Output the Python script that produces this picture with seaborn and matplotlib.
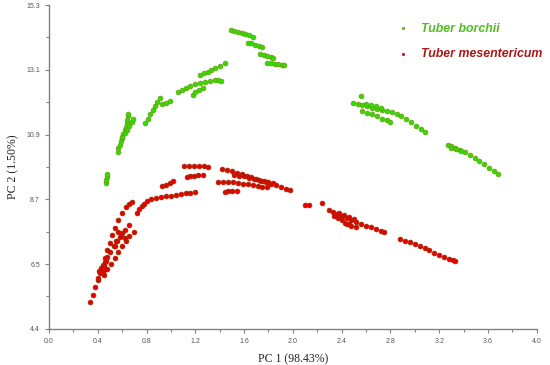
import numpy as np
import pandas as pd
import seaborn as sns
import matplotlib.pyplot as plt

# --- DATA ---
borchii_x = [1.49, 1.52, 1.55, 1.58, 1.61, 1.64, 1.67,
             1.63, 1.66, 1.69, 1.72, 1.75,
             1.73, 1.76, 1.79, 1.82, 1.84,
             1.79, 1.82, 1.85, 1.88, 1.91, 1.93,
             1.24, 1.27, 1.30, 1.33, 1.36, 1.40, 1.44,
             1.06, 1.09, 1.12, 1.16, 1.20, 1.24, 1.28, 1.32, 1.36, 1.39, 1.41,
             1.18, 1.20, 1.23, 1.26,
             0.79, 0.81, 0.83, 0.85, 0.87, 0.89, 0.91, 0.93, 0.96, 0.99,
             0.57, 0.57, 0.58, 0.59, 0.60, 0.61, 0.62, 0.63, 0.64, 0.64, 0.65, 0.65,
             0.60, 0.62, 0.64, 0.66, 0.68, 0.69,
             0.47, 0.47, 0.48, 0.48,
             2.49, 2.53, 2.57, 2.61, 2.65, 2.69, 2.73, 2.77, 2.81, 2.85, 2.89, 2.93, 2.97, 3.01, 3.05, 3.08,
             2.57, 2.61, 2.65, 2.69, 2.73, 2.77, 2.80,
             2.60, 2.64, 2.68, 2.72, 2.56,
             3.27, 3.30, 3.33, 3.37, 3.41, 3.45, 3.49, 3.53, 3.57, 3.61, 3.65, 3.68, 3.30, 3.34, 3.38]
borchii_y = [14.47, 14.44, 14.40, 14.36, 14.32, 14.28, 14.24,
             14.04, 14.01, 13.97, 13.94, 13.90,
             13.67, 13.63, 13.60, 13.56, 13.53,
             13.36, 13.35, 13.33, 13.31, 13.30, 13.29,
             12.96, 13.01, 13.06, 13.12, 13.19, 13.26, 13.34,
             12.39, 12.45, 12.51, 12.57, 12.63, 12.68, 12.72, 12.75, 12.78, 12.79, 12.74,
             12.28, 12.36, 12.44, 12.52,
             11.34, 11.48, 11.62, 11.76, 11.90, 12.04, 12.18, 11.98, 12.02, 12.06,
             10.36, 10.48, 10.60, 10.72, 10.84, 10.96, 11.08, 11.20, 11.32, 11.44, 11.56, 11.63,
             10.85, 10.98, 11.10, 11.24, 11.38, 11.48,
             9.32, 9.42, 9.52, 9.62,
             12.01, 11.97, 11.93, 11.89, 11.85, 11.81, 11.77, 11.73, 11.69, 11.64, 11.55, 11.45, 11.35, 11.24, 11.12, 11.02,
             11.75, 11.68, 11.62, 11.55, 11.48, 11.42, 11.38,
             11.98, 11.95, 11.90, 11.84, 12.25,
             10.60, 10.56, 10.50, 10.43, 10.35, 10.26, 10.16, 10.05, 9.94, 9.83, 9.72, 9.62, 10.50, 10.45, 10.38]

mesentericum_x = [0.34, 0.36, 0.38, 0.40, 0.42, 0.44, 0.46, 0.48, 0.50, 0.52, 0.54, 0.57, 0.60, 0.63, 0.66, 0.68,
                  0.40, 0.42, 0.44, 0.46, 0.48, 0.50, 0.53, 0.56, 0.59, 0.62, 0.66,
                  0.45, 0.48, 0.51, 0.54, 0.57, 0.60, 0.63, 0.66, 0.70,
                  0.41, 0.43, 0.45, 0.47, 0.44, 0.46, 0.55, 0.58, 0.60, 0.57, 0.62, 0.54,
                  0.72, 0.74, 0.76, 0.78, 0.80, 0.84, 0.88, 0.92, 0.96, 1.00, 1.04, 1.08, 1.12, 1.16, 1.20,
                  0.93, 0.96, 0.99, 1.02,
                  1.13, 1.16, 1.19, 1.22, 1.26,
                  1.11, 1.15, 1.19, 1.23, 1.27, 1.30,
                  1.42, 1.46, 1.50, 1.54, 1.58, 1.62, 1.66, 1.70, 1.74, 1.78, 1.82, 1.86, 1.90, 1.94, 1.98,
                  1.39, 1.43, 1.47, 1.51, 1.55, 1.59, 1.63, 1.67, 1.71, 1.75, 1.79,
                  1.44, 1.47, 1.50, 1.54,
                  1.52, 1.56, 1.60, 1.64, 1.68, 1.72, 1.76, 1.80, 1.84,
                  2.10, 2.13, 2.24,
                  2.30, 2.33, 2.36, 2.40, 2.44, 2.48, 2.52, 2.56, 2.60, 2.64, 2.68, 2.72, 2.75,
                  2.34, 2.37, 2.40, 2.43, 2.46, 2.38, 2.42, 2.46, 2.50, 2.44, 2.48, 2.52,
                  2.88, 2.92, 2.96, 3.00, 3.04, 3.08, 3.12, 3.16, 3.20, 3.24, 3.28, 3.31, 3.33]
mesentericum_y = [5.31, 5.55, 5.80, 6.05, 6.30, 6.55, 6.80, 7.05, 7.30, 7.55, 7.80, 8.05, 8.30, 8.50, 8.62, 8.68,
                  6.10, 6.28, 6.46, 6.64, 6.82, 7.00, 7.18, 7.36, 7.54, 7.72, 7.90,
                  6.20, 6.40, 6.60, 6.80, 7.00, 7.18, 7.36, 7.52, 7.65,
                  6.35, 6.45, 6.55, 6.70, 6.30, 6.40, 7.35, 7.50, 7.62, 7.65, 7.45, 7.20,
                  8.31, 8.42, 8.52, 8.62, 8.70, 8.76, 8.80, 8.83, 8.86, 8.89, 8.92, 8.94, 8.96, 8.98, 9.00,
                  9.20, 9.26, 9.32, 9.37,
                  9.52, 9.53, 9.55, 9.57, 9.59,
                  9.89, 9.90, 9.90, 9.89, 9.88, 9.86,
                  9.79, 9.74, 9.70, 9.65, 9.60, 9.55, 9.50, 9.45, 9.39, 9.34, 9.29, 9.24, 9.18, 9.12, 9.07,
                  9.35, 9.36, 9.35, 9.33, 9.31, 9.29, 9.27, 9.24, 9.21, 9.19, 9.16,
                  9.02, 9.03, 9.04, 9.05,
                  9.59, 9.56, 9.53, 9.49, 9.45, 9.41, 9.38, 9.35, 9.32,
                  8.57, 8.57, 8.64,
                  8.41, 8.35, 8.28, 8.20, 8.13, 8.06, 8.00, 7.94, 7.88, 7.82, 7.76, 7.70, 7.67,
                  8.20, 8.12, 8.05, 7.98, 7.92, 8.30, 8.25, 8.18, 8.10, 7.92, 7.88, 7.84,
                  7.43, 7.37, 7.31, 7.25, 7.18, 7.11, 7.04, 6.97, 6.90, 6.83, 6.76, 6.71, 6.69]

species = ['Tuber borchii', 'Tuber mesentericum']
x_ticks = [0.0, 0.4, 0.8, 1.2, 1.6, 2.0, 2.4, 2.8, 3.2, 3.6, 4.0]
y_ticks = [4.4, 6.58, 8.76, 10.94, 13.12, 15.3]
y_tick_labels = ['4.4', '6.5', '8.7', '10.9', '13.1', '15.3']

df = pd.concat([
    pd.DataFrame({'PC1': borchii_x, 'PC2': borchii_y, 'species': species[0]}),
    pd.DataFrame({'PC1': mesentericum_x, 'PC2': mesentericum_y, 'species': species[1]}),
], ignore_index=True)

# --- PLOT ---
sns.set_style('ticks')
plt.rcParams['font.family'] = ['Liberation Sans', 'DejaVu Sans']

fill = {species[0]: '#33dd00', species[1]: '#e80000'}
edge = {species[0]: '#6a9a10', species[1]: '#9a2a00'}
text_col = {species[0]: '#55bb22', species[1]: '#a81818'}

fig = plt.figure(figsize=(5.5, 3.65), dpi=100)
ax = fig.add_axes([0.089, 0.099, 0.887, 0.887])

for sp in species:
    sns.scatterplot(data=df[df['species'] == sp], x='PC1', y='PC2', color=fill[sp],
                    edgecolor=edge[sp], linewidth=0.5, s=12, ax=ax, label=sp)

ax.set_xlim(0, 4.0)
ax.set_ylim(4.4, 15.3)
ax.set_xticks(x_ticks)
ax.set_xticklabels([f'{v:.1f}' for v in x_ticks])
ax.set_xticks(np.arange(0.2, 4.0, 0.4), minor=True)
ax.set_yticks(y_ticks)
ax.set_yticklabels(y_tick_labels)
ax.set_yticks([(a + b) / 2 for a, b in zip(y_ticks[:-1], y_ticks[1:])], minor=True)
ax.tick_params(which='both', direction='out', colors='#808080', labelcolor='#555555', labelsize=5, width=0.8)
ax.tick_params(which='major', length=3)
ax.tick_params(which='minor', length=2)
for side in ['top', 'right']:
    ax.spines[side].set_visible(False)
for side in ['left', 'bottom']:
    ax.spines[side].set_color('#808080')
    ax.spines[side].set_linewidth(1.0)

ax.set_xlabel('PC 1 (98.43%)', family='Liberation Serif', fontsize=8.5, color='#222222', labelpad=6)
ax.set_ylabel('PC 2 (1.50%)', family='Liberation Serif', fontsize=8.5, color='#222222', labelpad=5)

leg = ax.legend(loc='upper left', bbox_to_anchor=(0.69, 0.98), frameon=False, markerscale=0.5,
                handlelength=1.0, handletextpad=1.0, labelspacing=1.1,
                prop={'style': 'italic', 'weight': 'bold', 'size': 8.9})
for t in leg.get_texts():
    t.set_color(text_col[t.get_text()])

fig.savefig('out.png', dpi=100)
